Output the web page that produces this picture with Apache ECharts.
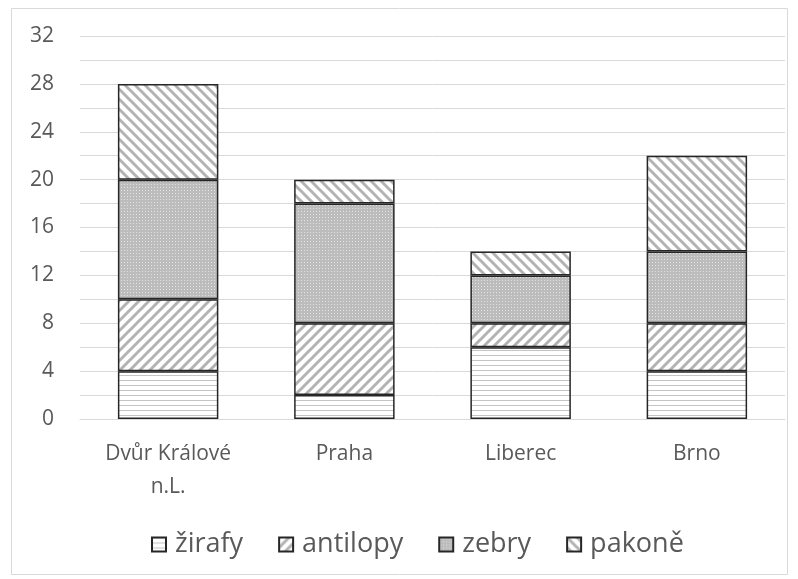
<!DOCTYPE html>
<html><head><meta charset="utf-8">
<script src="https://cdn.jsdelivr.net/npm/echarts@6/dist/echarts.min.js"></script>
<style>html,body{margin:0;padding:0;background:#fff}#c{width:798px;height:579px}</style>
</head><body><div id="c"></div>
<script>
const categories = ['Dvůr Králové\nn.L.', 'Praha', 'Liberec', 'Brno'];
const seriesNames = ['žirafy', 'antilopy', 'zebry', 'pakoně'];
const zirafy = [4, 2, 6, 4];
const antilopy = [6, 6, 2, 4];
const zebry = [10, 10, 4, 6];
const pakone = [8, 2, 2, 8];
const yTicks = [0, 4, 8, 12, 16, 20, 24, 28, 32];

function mk(w, h, draw) {
  const c = document.createElement('canvas'); c.width = w; c.height = h;
  const g = c.getContext('2d'); g.fillStyle = '#fff'; g.fillRect(0, 0, w, h); draw(g); return c;
}
const pHoriz = mk(8, 5, g => { g.fillStyle = '#c4c4c4'; g.fillRect(0, 0, 8, 1); });
function diag(dir) {
  return mk(10, 10, g => {
    g.strokeStyle = '#b3b3b3'; g.lineWidth = 3;
    for (let k = -1; k <= 1; k++) {
      g.beginPath();
      if (dir > 0) { g.moveTo(-2 + k * 10, 12); g.lineTo(12 + k * 10, -2); }
      else { g.moveTo(-2 + k * 10, -2); g.lineTo(12 + k * 10, 12); }
      g.stroke();
    }
  });
}
const pUp = diag(1), pDown = diag(-1);
const pDots = mk(3, 3, g => { g.fillStyle = '#bcbcbc'; g.fillRect(0, 0, 3, 3); g.fillStyle = '#e2e2e2'; g.fillRect(1, 1, 1, 1); });
const pats = [pHoriz, pUp, pDots, pDown];
const datas = [zirafy, antilopy, zebry, pakone];

const font = 'Open Sans';
const chart = echarts.init(document.getElementById('c'));
chart.setOption({
  animation: false,
  textStyle: { fontFamily: font },
  graphic: [{ type: 'rect', shape: { x: 11.5, y: 8.5, width: 776, height: 566 }, style: { fill: 'none', stroke: '#d9d9d9', lineWidth: 1 } }],
  grid: { left: 80, right: 13, top: 36, bottom: 160 },
  legend: {
    bottom: 16, left: 146, itemWidth: 14, itemHeight: 14, itemGap: 35,
    textStyle: { fontSize: 27, color: '#595959', fontFamily: font, padding: [0, 0, 0, 4] },
    data: seriesNames.map(n => ({ name: n, icon: 'rect' }))
  },
  xAxis: {
    type: 'category', data: categories,
    axisLine: { lineStyle: { color: '#d9d9d9' } }, axisTick: { show: false },
    axisLabel: { color: '#595959', fontSize: 21, margin: 19, lineHeight: 33, fontFamily: font }
  },
  yAxis: {
    type: 'value', min: 0, max: 32, interval: 4,
    axisLabel: { color: '#595959', fontSize: 21, margin: 26, fontFamily: font, formatter: v => yTicks.includes(v) ? String(v) : '' },
    splitLine: { lineStyle: { color: '#d9d9d9' } },
    minorTick: { show: false, splitNumber: 2 },
    minorSplitLine: { show: true, lineStyle: { color: '#d9d9d9' } }
  },
  series: seriesNames.map((n, i) => ({
    name: n, type: 'bar', stack: 's', data: datas[i], barWidth: '57%',
    itemStyle: { color: { image: pats[i], repeat: 'repeat' }, borderColor: '#262626', borderWidth: 1.5 }
  }))
});
</script></body></html>
